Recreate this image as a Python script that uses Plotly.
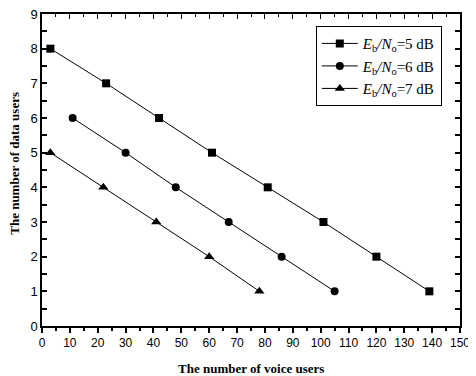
import plotly.graph_objects as go

# Data
sq_x = [3, 23, 42, 61, 81, 101, 120, 139]
sq_y = [8, 7, 6, 5, 4, 3, 2, 1]
ci_x = [11, 30, 48, 67, 86, 105]
ci_y = [6, 5, 4, 3, 2, 1]
tr_x = [3, 22, 41, 60, 78]
tr_y = [5, 4, 3, 2, 1]
names = ["<i>E</i><sub>b</sub><i>/N</i><sub>o</sub>=5 dB",
         "<i>E</i><sub>b</sub><i>/N</i><sub>o</sub>=6 dB",
         "<i>E</i><sub>b</sub><i>/N</i><sub>o</sub>=7 dB"]
x_ticks = list(range(0, 151, 10))
y_ticks = list(range(0, 10))
x_title = "The number of voice users"
y_title = "The number of data users"

fig = go.Figure()
fig.add_trace(go.Scatter(x=sq_x, y=sq_y, mode="lines+markers", name=names[0],
                         line=dict(color="black", width=1),
                         marker=dict(symbol="square", size=8, color="black")))
fig.add_trace(go.Scatter(x=ci_x, y=ci_y, mode="lines+markers", name=names[1],
                         line=dict(color="black", width=1),
                         marker=dict(symbol="circle", size=8, color="black")))
fig.add_trace(go.Scatter(x=tr_x, y=tr_y, mode="lines+markers", name=names[2],
                         line=dict(color="black", width=1),
                         marker=dict(symbol="triangle-up", size=9, color="black")))
# invisible trace to carry the top axis
fig.add_trace(go.Scatter(x=[None], y=[None], xaxis="x2", showlegend=False,
                         hoverinfo="skip"))

xtickfont = dict(family="Liberation Sans, Arial", size=12, color="black")
ytickfont = dict(family="Liberation Sans, Arial", size=13, color="black")
titlefont = dict(family="Liberation Serif, Times New Roman", size=13, color="black")

fig.update_layout(
    width=468, height=368,
    margin=dict(l=34, r=16, t=6, b=50),
    paper_bgcolor="white", plot_bgcolor="white",
    showlegend=True,
    legend=dict(x=0.655, y=0.961, xanchor="left", yanchor="top",
                bordercolor="black", borderwidth=1, bgcolor="white",
                font=dict(family="Liberation Serif, Times New Roman", size=15, color="black"),
                tracegroupgap=0, itemwidth=36),
    xaxis=dict(range=[0, 150], tickvals=x_ticks, ticks="outside", ticklen=5,
               tickwidth=1.5, tickcolor="black", automargin=False,
               ticklabeloverflow="allow",
               minor=dict(dtick=5, ticks="outside", ticklen=3, tickcolor="black"),
               showline=True, linecolor="black", linewidth=1.5, mirror=True,
               showgrid=False, zeroline=False, tickfont=xtickfont),
    xaxis2=dict(range=[0, 150], overlaying="x", side="top", tickvals=x_ticks,
                ticks="inside", ticklen=5, tickcolor="black", showticklabels=False,
                minor=dict(dtick=5, ticks="inside", ticklen=3, tickcolor="black"),
                showgrid=False, zeroline=False, showline=False, automargin=False),
    yaxis=dict(range=[0, 9], tickvals=y_ticks, ticks="inside", ticklen=5,
               tickwidth=1.5, tickcolor="black", automargin=False,
               ticklabeloverflow="allow",
               minor=dict(dtick=0.5, ticks="inside", ticklen=3, tickcolor="black"),
               showline=True, linecolor="black", linewidth=1.5, mirror="allticks",
               showgrid=False, zeroline=False, tickfont=ytickfont),
    annotations=[
        dict(text="<b>" + x_title + "</b>", xref="paper", yref="paper", x=0.5, y=0,
             xanchor="center", yanchor="top", yshift=-33, showarrow=False, font=titlefont),
        dict(text="<b>" + y_title + "</b>", xref="paper", yref="paper", x=0, y=0.52,
             xanchor="center", yanchor="middle", xshift=-27, textangle=-90,
             showarrow=False, font=titlefont),
    ],
)

fig.write_html("out.html")
